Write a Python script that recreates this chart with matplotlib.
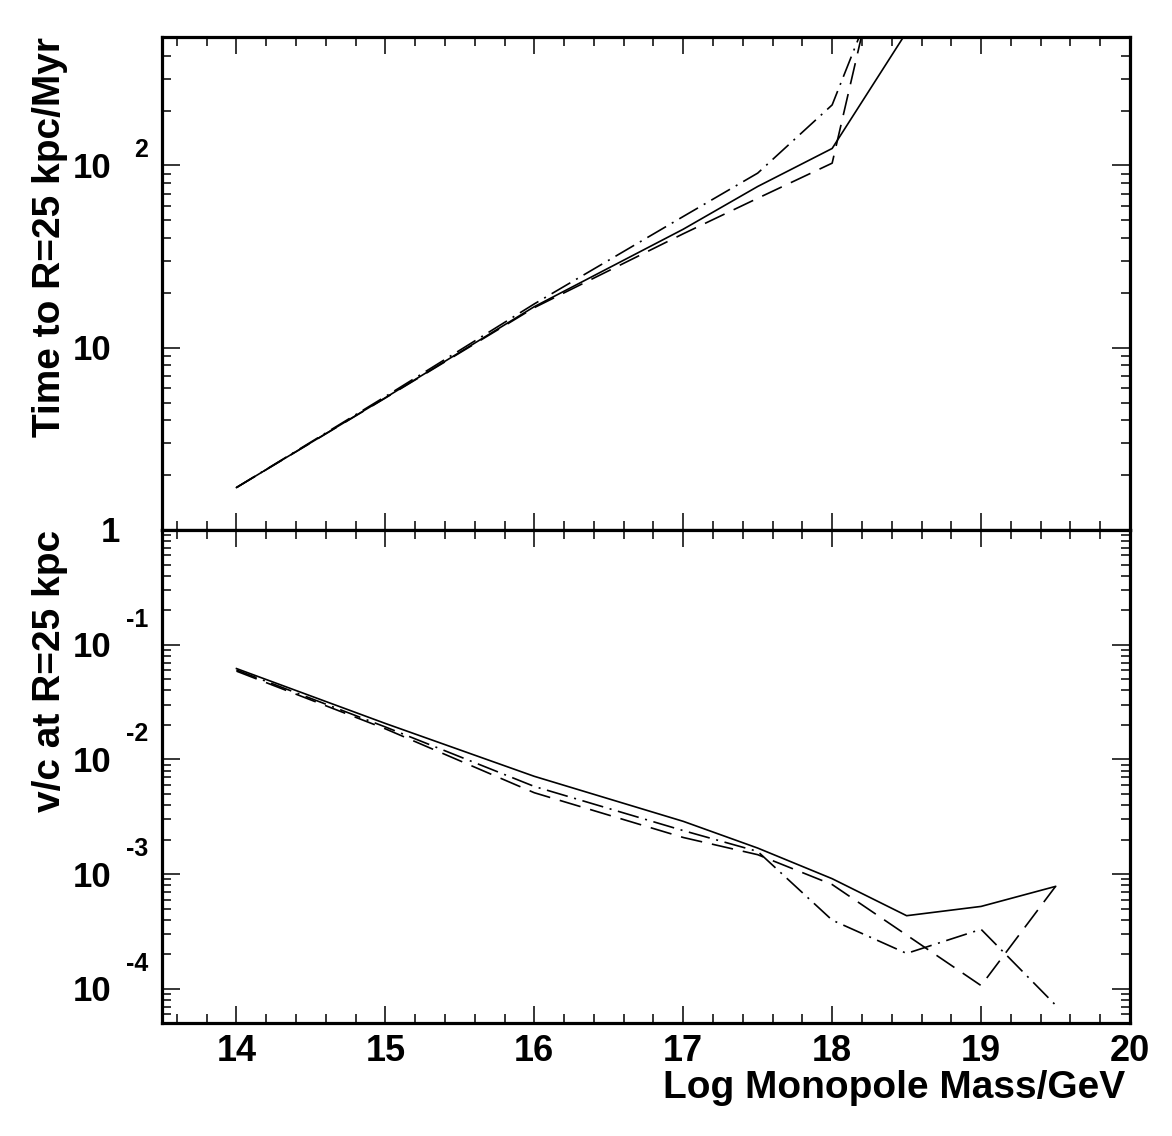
import numpy as np
import matplotlib
matplotlib.use("Agg")
import matplotlib.pyplot as plt
from matplotlib.ticker import FixedLocator, NullFormatter, LogLocator

plt.rcParams['font.family'] = ['Liberation Sans', 'DejaVu Sans']
plt.rcParams['font.weight'] = 'bold'

# ---------------- data ----------------
mass_top = [14, 15, 16, 17, 17.5, 18, 18.5]
time_solid = [1.71, 5.32, 16.8, 44.7, 76.7, 124, 540]
time_dashed = [1.71, 5.30, 16.6, 42.2, 66.1, 103, 6000]
time_dashdot = [1.71, 5.40, 17.4, 52.5, 90.8, 215, 2300]

mass_bot = [14, 15, 16, 17, 17.5, 18, 18.5, 19, 19.5]
vc_solid = [0.062, 0.0206, 0.00713, 0.00289, 0.00169, 0.000914, 0.000435, 0.000524, 0.000783]
vc_dashed = [0.0589, 0.0185, 0.00513, 0.00209, 0.00148, 0.000813, 0.000295, 0.000107, 0.000783]
vc_dashdot = [0.0603, 0.0192, 0.00582, 0.0024, 0.00158, 0.000398, 0.000204, 0.000331, 7.24e-5]

x_ticks = [14, 15, 16, 17, 18, 19, 20]
x_ticklabels = ["14", "15", "16", "17", "18", "19", "20"]
top_yticks = [1, 10, 100]
top_ylabels = [("1", None), ("10", None), ("10", "2")]
bot_yticks = [1e-4, 1e-3, 1e-2, 1e-1, 1]
bot_ylabels = [("10", "-4"), ("10", "-3"), ("10", "-2"), ("10", "-1"), ("1", None)]

xlabel = "Log Monopole Mass/GeV"
ylabel_top = "Time to R=25 kpc/Myr"
ylabel_bot = "v/c at R=25 kpc"

# ---------------- figure ----------------
W, H = 1172, 1136
fig = plt.figure(figsize=(W / 100, H / 100), dpi=100)
L, R = 162, 1130
ax1 = fig.add_axes([L / W, 1 - 530 / H, (R - L) / W, 493 / H])
ax2 = fig.add_axes([L / W, 1 - 1023 / H, (R - L) / W, 493 / H])

lw = 1.2
styles = dict(solid='-', dashed=(0, (13, 6)), dashdot=(0, (13, 4, 1.2, 4)))

ax1.plot(mass_top, time_solid, color='black', lw=lw, linestyle=styles['solid'])
ax1.plot(mass_top, time_dashed, color='black', lw=lw, linestyle=styles['dashed'])
ax1.plot(mass_top, time_dashdot, color='black', lw=lw, linestyle=styles['dashdot'])

ax2.plot(mass_bot, vc_solid, color='black', lw=lw, linestyle=styles['solid'])
ax2.plot(mass_bot, vc_dashed, color='black', lw=lw, linestyle=styles['dashed'])
ax2.plot(mass_bot, vc_dashdot, color='black', lw=lw, linestyle=styles['dashdot'])

ax1.set_yscale('log')
ax2.set_yscale('log')

for ax in (ax1, ax2):
    ax.set_xlim(13.5, 20)
    ax.xaxis.set_major_locator(FixedLocator(x_ticks))
    ax.xaxis.set_minor_locator(FixedLocator(np.arange(13.6, 20.0, 0.2)))
    ax.yaxis.set_minor_locator(LogLocator(base=10, subs=np.arange(2, 10), numticks=20))
    ax.yaxis.set_minor_formatter(NullFormatter())
    ax.tick_params(which='both', direction='in', top=True, right=True, width=1.1)
    ax.tick_params(axis='x', which='major', length=12.5)
    ax.tick_params(axis='x', which='minor', length=6.5)
    ax.tick_params(axis='y', which='major', length=13)
    ax.tick_params(axis='y', which='minor', length=6.5)
    for s in ax.spines.values():
        s.set_linewidth(2.3)

ax1.set_yticks(top_yticks)
ax1.set_yticklabels([])
ax2.set_yticks(bot_yticks)
ax2.set_yticklabels([])
ax1.set_ylim(1, 507)
ax2.set_ylim(5.05e-5, 1)

ax1.tick_params(axis='x', labelbottom=False)
ax2.set_xticks(x_ticks)
ax2.set_xticklabels(x_ticklabels, fontsize=26, fontweight='bold')
ax2.tick_params(axis='x', pad=8)

tick_fs = 25
exp_fs = 18


def ylab(ax, val, base, exp, exp_raise):
    right = 120 if base == "1" else 111
    ax.annotate(base, xy=(0, val), xycoords=('axes fraction', 'data'),
                xytext=(-(162 - right) * 0.72, -9), textcoords='offset points',
                ha='right', va='baseline', fontsize=tick_fs, fontweight='bold')
    if exp is not None:
        ax.annotate(exp, xy=(0, val), xycoords=('axes fraction', 'data'),
                    xytext=(-(162 - 148) * 0.72, exp_raise * 0.72), textcoords='offset points',
                    ha='right', va='baseline', fontsize=exp_fs, fontweight='bold')


for v, (b, e) in zip(top_yticks, top_ylabels):
    if v == 1:
        continue
    ylab(ax1, v, b, e, 8)
for v, (b, e) in zip(bot_yticks, bot_ylabels):
    ylab(ax2, v, b, e, 18)

ax2.set_xlabel(xlabel, fontsize=28, fontweight='bold', loc='right')
ax2.xaxis.set_label_coords(1 - 5 / 968, -(1070 - 1023) / 493)
ax2.xaxis.label.set_va('top')

ax1.set_ylabel(ylabel_top, fontsize=28, fontweight='bold', loc='top')
ax1.yaxis.set_label_coords(-(162 - 68) / 968, 1.0)
ax2.set_ylabel(ylabel_bot, fontsize=28, fontweight='bold', loc='top')
ax2.yaxis.set_label_coords(-(162 - 68) / 968, 1.0)

fig.savefig("out.png", dpi=100)
